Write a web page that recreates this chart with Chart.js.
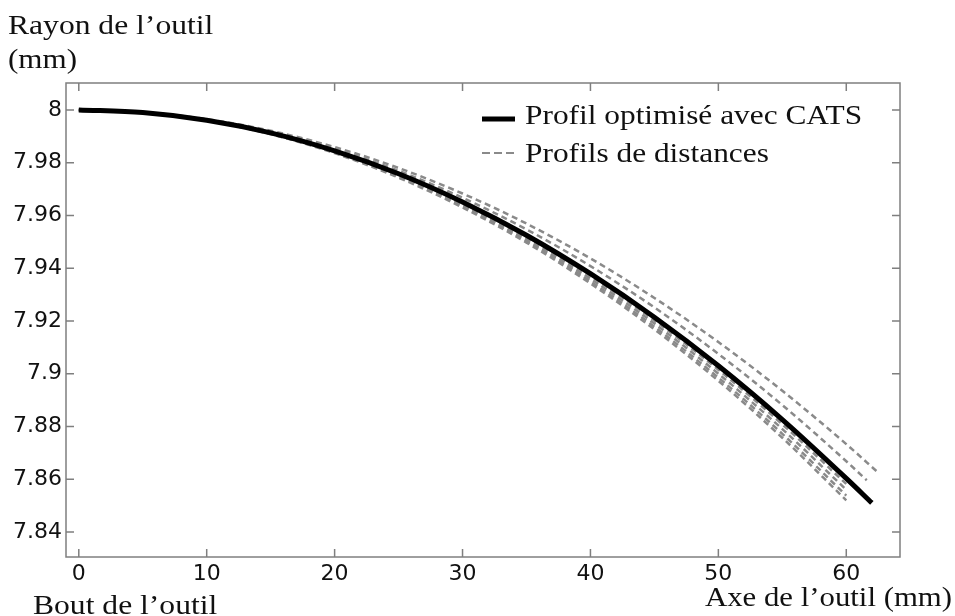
<!DOCTYPE html>
<html>
<head>
<meta charset="utf-8">
<script src="https://cdn.jsdelivr.net/npm/chart.js@4/dist/chart.umd.min.js"></script>
<style>
  body{margin:0;background:#fff;}
  #wrap{position:relative;width:955px;height:616px;}
  .lbl{position:absolute;font-family:'Liberation Serif','Times New Roman',serif;font-size:27px;color:#111;white-space:nowrap;transform-origin:0 0;line-height:1;}
</style>
</head>
<body>
<div id="wrap">
  <canvas id="c" width="955" height="616"></canvas>
  <div class="lbl" id="t_y1" style="left:8px;top:12px;transform:scaleX(1.17)">Rayon de l’outil</div>
  <div class="lbl" id="t_y2" style="left:8px;top:46px;transform:scaleX(1.15)">(mm)</div>
  <div class="lbl" id="t_x1" style="left:33px;top:592px;transform:scaleX(1.17)">Bout de l’outil</div>
  <div class="lbl" id="t_x2" style="left:705px;top:584px;transform:scaleX(1.14)">Axe de l’outil (mm)</div>
</div>
<script>
/* ---- données ---- */
const xTicks = [0,10,20,30,40,50,60];
const yTicks = [7.84,7.86,7.88,7.90,7.92,7.94,7.96,7.98,8.00];
const yTickLabels = ['7.84','7.86','7.88','7.9','7.92','7.94','7.96','7.98','8'];

// profil optimisé (CATS)
const catsX = [0,5,10,15,20,25,30,35,40,45,50,55,60,62];
const catsY = [8.0000,7.9990,7.9961,7.9913,7.9845,7.9758,7.9651,7.9525,7.9379,7.9214,7.9030,7.8826,7.8603,7.8510];

// profils de distances (2 au-dessus, 4 en dessous)
const distX = [0,5,10,15,20,25,30,35,40,45,50,55,60];
const dist1X = [...distX, 62.4];
const dist1Y = [8.0000,7.9991,7.9965,7.9921,7.9859,7.9780,7.9683,7.9569,7.9437,7.9287,7.9120,7.8935,7.8733,7.8629];
const dist2X = [...distX, 61.6];
const dist2Y = [8.0000,7.9991,7.9963,7.9917,7.9852,7.9769,7.9667,7.9547,7.9408,7.9251,7.9075,7.8881,7.8668,7.8596];
const dist3Y = [8.0000,7.9990,7.9961,7.9911,7.9842,7.9754,7.9645,7.9517,7.9370,7.9202,7.9015,7.8808,7.8582];
const dist4Y = [8.0000,7.9990,7.9960,7.9910,7.9840,7.9750,7.9640,7.9510,7.9360,7.9190,7.9000,7.8790,7.8560];
const dist5Y = [8.0000,7.9990,7.9959,7.9909,7.9838,7.9746,7.9635,7.9503,7.9350,7.9178,7.8985,7.8772,7.8538];
const dist6Y = [8.0000,7.9990,7.9959,7.9908,7.9836,7.9743,7.9630,7.9497,7.9342,7.9168,7.8973,7.8757,7.8520];

const pts = (xs, ys) => xs.map((x,i)=>({x, y:ys[i]}));
const GRAY = '#8a8a8a';
const dashDs = (xs, ys) => ({data:pts(xs,ys), borderColor:GRAY, borderWidth:2.5, borderDash:[6,4], pointRadius:0, cubicInterpolationMode:'monotone', fill:false});

// cadre + graduations intérieures + légende
const boxPlugin = {
  id:'box',
  afterDraw(chart){
    const {ctx, chartArea:a, scales:{x, y}} = chart;
    ctx.save();
    ctx.strokeStyle = '#7f7f7f'; ctx.lineWidth = 1.5;
    ctx.strokeRect(a.left, a.top, a.width, a.height);
    ctx.beginPath();
    xTicks.forEach(v=>{ const px = x.getPixelForValue(v);
      ctx.moveTo(px, a.bottom); ctx.lineTo(px, a.bottom-8);
      ctx.moveTo(px, a.top); ctx.lineTo(px, a.top+8); });
    yTicks.forEach(v=>{ const py = y.getPixelForValue(v);
      ctx.moveTo(a.left, py); ctx.lineTo(a.left+8, py);
      ctx.moveTo(a.right, py); ctx.lineTo(a.right-8, py); });
    ctx.stroke();
    // légende
    ctx.strokeStyle = '#000'; ctx.lineWidth = 5; ctx.setLineDash([]);
    ctx.beginPath(); ctx.moveTo(482, 119); ctx.lineTo(515, 119); ctx.stroke();
    ctx.strokeStyle = GRAY; ctx.lineWidth = 2; ctx.setLineDash([8,4]);
    ctx.beginPath(); ctx.moveTo(482, 153); ctx.lineTo(515, 153); ctx.stroke();
    ctx.setLineDash([]);
    ctx.fillStyle = '#111'; ctx.font = '28px "Liberation Serif", serif'; ctx.textBaseline = 'alphabetic';
    [['Profil optimisé avec CATS',124],['Profils de distances',162]].forEach(([t,by])=>{
      ctx.save(); ctx.translate(525, by); ctx.scale(1.12, 1); ctx.fillText(t, 0, 0); ctx.restore();
    });
    ctx.restore();
  }
};

new Chart(document.getElementById('c'), {
  type:'line',
  data:{ datasets:[
    {data:pts(catsX,catsY), borderColor:'#000', borderWidth:5, pointRadius:0, cubicInterpolationMode:'monotone', fill:false},
    dashDs(dist1X, dist1Y), dashDs(dist2X, dist2Y),
    dashDs(distX, dist3Y), dashDs(distX, dist4Y), dashDs(distX, dist5Y), dashDs(distX, dist6Y)
  ]},
  options:{
    responsive:false, animation:false,
    layout:{ padding:{left:0, top:83, right:55, bottom:0} },
    plugins:{ legend:{display:false}, tooltip:{enabled:false} },
    scales:{
      x:{ type:'linear', min:-1, max:64.2,
        grid:{display:false, drawTicks:false}, border:{display:false},
        afterBuildTicks: s => { s.ticks = xTicks.map(v=>({value:v})); },
        afterFit: s => { s.height = 59; },
        ticks:{ padding:4, color:'#111', font:{family:'"DejaVu Sans", sans-serif', size:22}, maxRotation:0, callback: v => String(v) } },
      y:{ type:'linear', min:7.8305, max:8.0102,
        grid:{display:false, drawTicks:false}, border:{display:false},
        afterBuildTicks: s => { s.ticks = yTicks.map(v=>({value:v})); },
        afterFit: s => { s.width = 66; },
        ticks:{ padding:4, color:'#111', font:{family:'"DejaVu Sans", sans-serif', size:22},
          callback: (v, i) => yTickLabels[i] } }
    }
  },
  plugins:[boxPlugin]
});
</script>
</body>
</html>
